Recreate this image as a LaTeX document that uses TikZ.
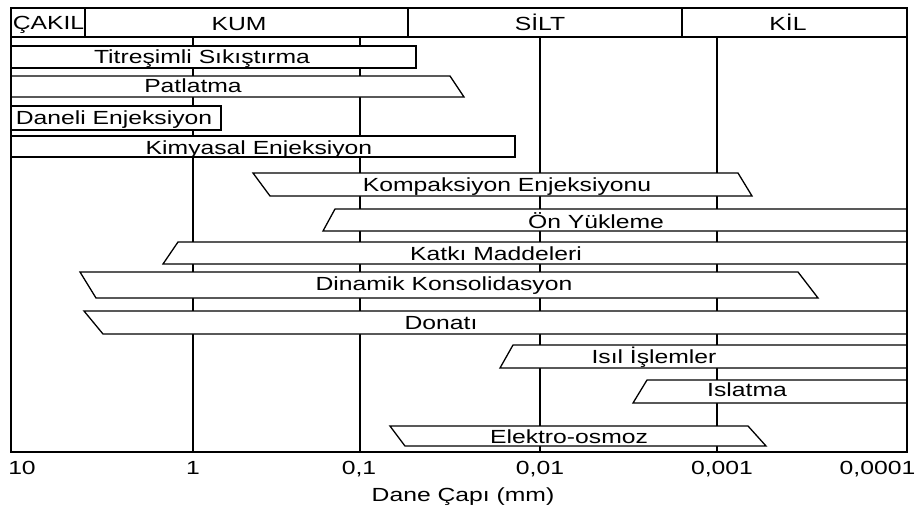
\documentclass[tikz,border=0pt]{standalone}
\usepackage{fontspec}
\setmainfont{Liberation Sans}
\begin{document}
\begin{tikzpicture}[x=1pt,y={(0pt,-1pt)},
  lbl/.style={font=\fontsize{19}{21}\selectfont, xscale=1.30, inner sep=0pt, anchor=base},
  bar/.style={draw=black, fill=white, line width=1.3pt, line join=miter},
  gridln/.style={line width=1.5pt},
  frm/.style={line width=1.6pt}]
\useasboundingbox (0,0) rectangle (917,509);
% grid lines
\foreach \gx in {193,360,540,717} \draw[gridln] (\gx,37) -- (\gx,452);
% bars
\draw[bar] (11,46) -- (416,46) -- (416,68) -- (11,68) -- cycle;
\draw[bar] (11,76) -- (450,76) -- (464,97) -- (11,97) -- cycle;
\draw[bar] (11,106) -- (221,106) -- (221,130) -- (11,130) -- cycle;
\draw[bar] (11,136) -- (515,136) -- (515,157) -- (11,157) -- cycle;
\draw[bar] (253,173) -- (738,173) -- (752,196) -- (270,196) -- cycle;
\draw[bar] (335,209) -- (907,209) -- (907,231) -- (323,231) -- cycle;
\draw[bar] (178,242) -- (907,242) -- (907,264) -- (163,264) -- cycle;
\draw[bar] (80,272) -- (798,272) -- (818,298) -- (96,298) -- cycle;
\draw[bar] (84,311) -- (907,311) -- (907,334) -- (103,334) -- cycle;
\draw[bar] (513,345) -- (907,345) -- (907,368) -- (500,368) -- cycle;
\draw[bar] (647,380) -- (907,380) -- (907,403) -- (633,403) -- cycle;
\draw[bar] (390,426) -- (748,426) -- (766,446) -- (405,446) -- cycle;
% frame and header
\draw[frm] (11,8) rectangle (907,452);
\draw[frm] (11,37) -- (907,37);
\foreach \dx in {85,408,682} \draw[frm] (\dx,8) -- (\dx,37);
% header labels
\node[lbl, anchor=base west] (cakil) at (12.5,29.5) {ÇAKIL};
\node[lbl] (kum) at (239,30.5) {KUM};
\node[lbl] (silt) at (540,30.5) {SİLT};
\node[lbl] (kil) at (788,30.5) {KİL};
% bar labels
\node[lbl] (t1) at (202,63) {Titreşimli Sıkıştırma};
\node[lbl] (t2) at (193,92.3) {Patlatma};
\node[lbl] (t3) at (114,124) {Daneli Enjeksiyon};
\node[lbl] (t4) at (259,154) {Kimyasal Enjeksiyon};
\node[lbl] (t5) at (507,191.7) {Kompaksiyon Enjeksiyonu};
\node[lbl] (t6) at (596,228.3) {Ön Yükleme};
\node[lbl] (t7) at (496,260) {Katkı Maddeleri};
\node[lbl] (t8) at (444,290.5) {Dinamik Konsolidasyon};
\node[lbl] (t9) at (441,329) {Donatı};
\node[lbl] (t10) at (654,363.3) {Isıl İşlemler};
\node[lbl] (t11) at (747,396.7) {Islatma};
\node[lbl] (t12) at (569,443) {Elektro-osmoz};
% axis labels
\node[lbl] (a1) at (22,474) {10};
\node[lbl] (a2) at (193,474) {1};
\node[lbl] (a3) at (359,474) {0,1};
\node[lbl] (a4) at (540,474) {0,01};
\node[lbl] (a5) at (722,474) {0,001};
\node[lbl] (a6) at (877.5,474) {0,0001};
\node[lbl] (ax) at (463,501.7) {Dane Çapı (mm)};
\end{tikzpicture}
\end{document}
